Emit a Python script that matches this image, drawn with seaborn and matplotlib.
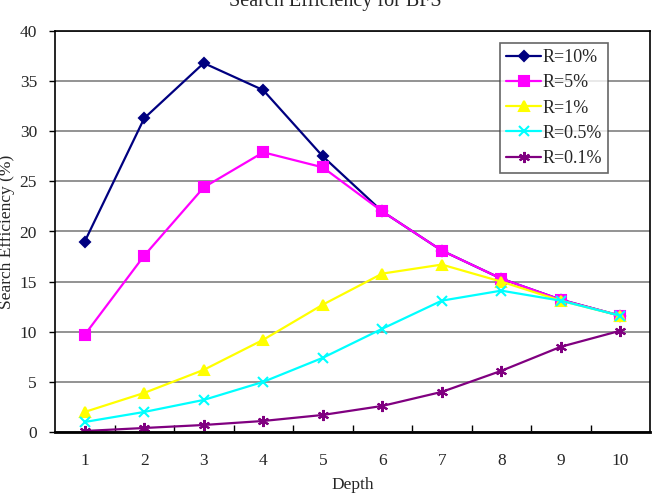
import matplotlib
matplotlib.use("Agg")
import matplotlib.pyplot as plt
import seaborn as sns
import pandas as pd
import numpy as np

depth = [1, 2, 3, 4, 5, 6, 7, 8, 9, 10]
r10 = [19.0, 31.3, 36.8, 34.1, 27.5, 22.0, 18.1, 15.3, 13.2, 11.6]
r5 = [9.7, 17.6, 24.4, 27.9, 26.4, 22.0, 18.1, 15.3, 13.2, 11.6]
r1 = [2.0, 3.9, 6.2, 9.2, 12.7, 15.8, 16.7, 15.0, 13.1, 11.6]
r05 = [1.0, 2.0, 3.2, 5.0, 7.4, 10.3, 13.1, 14.1, 13.1, 11.6]
r01 = [0.1, 0.4, 0.7, 1.1, 1.7, 2.6, 4.0, 6.1, 8.5, 10.1]
series_names = ["R=10%", "R=5%", "R=1%", "R=0.5%", "R=0.1%"]
y_ticks = [0, 5, 10, 15, 20, 25, 30, 35, 40]

series = [r10, r5, r1, r05, r01]
df = pd.DataFrame({
    "Depth": np.tile(depth, len(series)),
    "Eff": np.concatenate(series),
    "R": np.repeat(series_names, len(depth)),
})

sns.set_theme(style="white")
plt.rcParams["font.family"] = ["Liberation Serif", "DejaVu Serif"]

colors = {"R=10%": "#000080", "R=5%": "#FF00FF", "R=1%": "#FFFF00",
          "R=0.5%": "#00FFFF", "R=0.1%": "#800080"}
markers = {"R=10%": "D", "R=5%": "s", "R=1%": "^", "R=0.5%": "x", "R=0.1%": (6, 2, 0)}
msizes = {"R=10%": 5, "R=5%": 7, "R=1%": 7.5, "R=0.5%": 7, "R=0.1%": 8}

fig = plt.figure(figsize=(6.58, 4.94), dpi=100)
ax = fig.add_axes([55/658, 1 - 432/494, (650-55)/658, (432-31)/494])

for name in series_names:
    sub = df[df["R"] == name]
    sns.lineplot(data=sub, x="Depth", y="Eff", ax=ax, color=colors[name],
                 marker=markers[name], markersize=msizes[name], linewidth=1.6,
                 markeredgecolor=colors[name], markeredgewidth=1.5, label=name)

ax.set_xlim(0.5, 10.5)
ax.set_ylim(0, 40)
ax.set_yticks(y_ticks)
ax.set_yticklabels([str(v) for v in y_ticks], fontsize=12.5)
ax.set_xticks(depth)
ax.set_xticklabels([str(d) for d in depth], fontsize=12.5)
ax.set_xticks(np.arange(1.5, 10.5, 1), minor=True)
ax.tick_params(axis="x", which="major", length=0, pad=15)
ax.tick_params(axis="x", which="minor", direction="in", length=5, width=1, color="black", bottom=True)
ax.tick_params(axis="y", which="major", direction="out", length=4, width=1, color="black", left=True, pad=9)
ax.yaxis.grid(True, color="#808080", linewidth=1.2)
ax.set_axisbelow(True)
for s in ax.spines.values():
    s.set_color("black")
    s.set_linewidth(1.2)
ax.spines["bottom"].set_linewidth(2)

ax.set_xlabel("Depth", fontsize=12.5, labelpad=6)
ax.set_ylabel("Search Efficiency (%)", fontsize=12.5, labelpad=3)

leg = ax.legend(loc="upper right", bbox_to_anchor=(0.93, 0.97), fontsize=13,
                frameon=True, fancybox=False, borderpad=0.35, labelspacing=0.45,
                handlelength=1.9, handletextpad=0.1, borderaxespad=0)
leg.get_frame().set_edgecolor("#404040")
leg.get_frame().set_linewidth(1.2)

fig.text(0.51, 1 - 6/494, "Search Efficiency for BFS", ha="center", va="baseline", fontsize=14.5)

fig.savefig("out.png", dpi=100)
